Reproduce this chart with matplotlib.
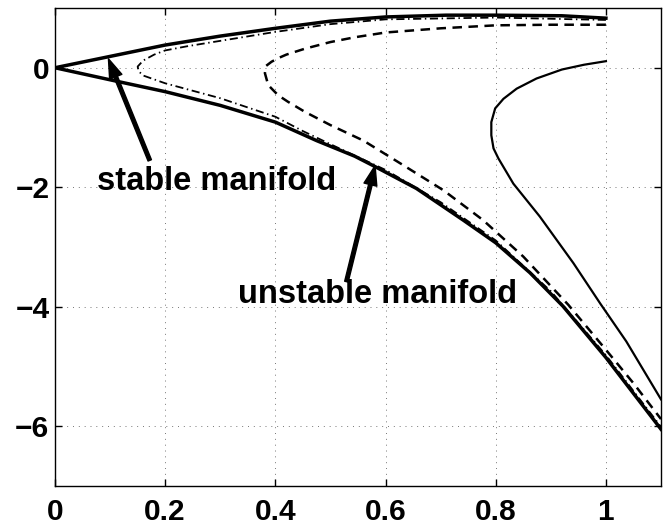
import matplotlib
matplotlib.use("Agg")
import matplotlib.pyplot as plt

plt.rcParams['font.family'] = ['Liberation Sans', 'DejaVu Sans']
plt.rcParams['font.weight'] = 'bold'

# ---- data ----
manifold_x = [1.0, 0.92, 0.8, 0.71, 0.6, 0.5, 0.4, 0.3, 0.2, 0.1, 0.0,
              0.109, 0.2, 0.3, 0.4, 0.475, 0.544, 0.58, 0.656, 0.741, 0.8,
              0.862, 0.922, 1.0, 1.05, 1.1]
manifold_y = [0.83, 0.87, 0.88, 0.88, 0.85, 0.78, 0.66, 0.53, 0.38, 0.19, 0.0,
              -0.22, -0.40, -0.63, -0.91, -1.22, -1.48, -1.65, -2.02, -2.55, -2.93,
              -3.43, -3.99, -4.85, -5.45, -6.05]

dashdot_x = [1.0, 0.8, 0.6, 0.5, 0.4, 0.3, 0.24, 0.2, 0.18, 0.16, 0.15, 0.152,
             0.16, 0.2, 0.3, 0.4, 0.45, 0.5, 0.6, 0.7, 0.8, 0.9, 1.0, 1.1]
dashdot_y = [0.80, 0.84, 0.81, 0.73, 0.60, 0.45, 0.36, 0.29, 0.22, 0.12, 0.02, -0.06,
             -0.13, -0.26, -0.51, -0.82, -1.06, -1.28, -1.71, -2.25, -2.89, -3.74, -4.81, -6.01]

dashed_x = [1.0, 0.9, 0.8, 0.7, 0.6, 0.544, 0.5, 0.454, 0.42, 0.405, 0.393, 0.383,
            0.381, 0.387, 0.405, 0.423, 0.454, 0.5, 0.56, 0.632, 0.705, 0.777, 0.85,
            0.932, 1.0, 1.05, 1.1]
dashed_y = [0.72, 0.72, 0.71, 0.66, 0.59, 0.51, 0.43, 0.32, 0.22, 0.16, 0.10, 0.03,
            -0.09, -0.29, -0.46, -0.57, -0.74, -0.96, -1.22, -1.63, -2.05, -2.55, -3.16,
            -3.97, -4.72, -5.28, -5.88]

thin_x = [1.0, 0.96, 0.92, 0.874, 0.838, 0.814, 0.799, 0.792, 0.792, 0.796, 0.805,
          0.832, 0.88, 0.941, 0.99, 1.037, 1.1]
thin_y = [0.11, 0.05, -0.03, -0.18, -0.35, -0.52, -0.68, -0.91, -1.13, -1.35, -1.52,
          -1.94, -2.49, -3.27, -3.95, -4.58, -5.55]

x_ticks = [0, 0.2, 0.4, 0.6, 0.8, 1.0]
x_tick_labels = ['0', '0.2', '0.4', '0.6', '0.8', '1']
y_ticks = [0, -2, -4, -6]
y_tick_labels = ['0', '\u22122', '\u22124', '\u22126']

labels = ['stable manifold', 'unstable manifold']
label_xy = [(0.076, -2.05), (0.333, -3.94)]
arrow_tail = [(0.172, -1.55), (0.529, -3.58)]
arrow_head = [(0.097, 0.15), (0.581, -1.64)]

# ---- figure ----
fig = plt.figure(figsize=(6.64, 5.25), dpi=100)
ax = fig.add_axes([55 / 664, 39 / 525, 606 / 664, 478 / 525])

ax.plot(manifold_x, manifold_y, color='k', lw=2.5, solid_joinstyle='round', zorder=5)
ax.plot(dashdot_x, dashdot_y, color='k', lw=1.3, linestyle=(0, (4.5, 2.0, 0.8, 2.0)), zorder=4)
ax.plot(dashed_x, dashed_y, color='k', lw=1.8, linestyle=(0, (3.8, 2.6)), zorder=4)
ax.plot(thin_x, thin_y, color='k', lw=1.6, solid_joinstyle='round', zorder=4)

for txt, (tx, ty), tail, head in zip(labels, label_xy, arrow_tail, arrow_head):
    ax.text(tx, ty, txt, fontsize=23.5, fontweight='bold', ha='left', va='baseline', zorder=7)
    ax.annotate('', xy=head, xytext=tail,
                arrowprops=dict(facecolor='k', edgecolor='k', width=2.6,
                                headwidth=9.5, headlength=14, shrink=0),
                zorder=8)

ax.set_xlim(0, 1.1)
ax.set_ylim(-7, 1)
ax.set_xticks(x_ticks)
ax.set_xticklabels(x_tick_labels)
ax.set_yticks(y_ticks)
ax.set_yticklabels(y_tick_labels)

ax.grid(True, color='#777777', lw=0.7, linestyle=(0, (1, 5)))
ax.set_axisbelow(True)
ax.tick_params(direction='in', top=True, right=True, length=5, width=1,
               labelsize=21.5)
ax.tick_params(axis='x', pad=9)
ax.tick_params(axis='y', pad=4)
for lab in ax.get_xticklabels() + ax.get_yticklabels():
    lab.set_fontweight('bold')
for s in ax.spines.values():
    s.set_linewidth(1.0)

fig.savefig('out.png', dpi=100)
